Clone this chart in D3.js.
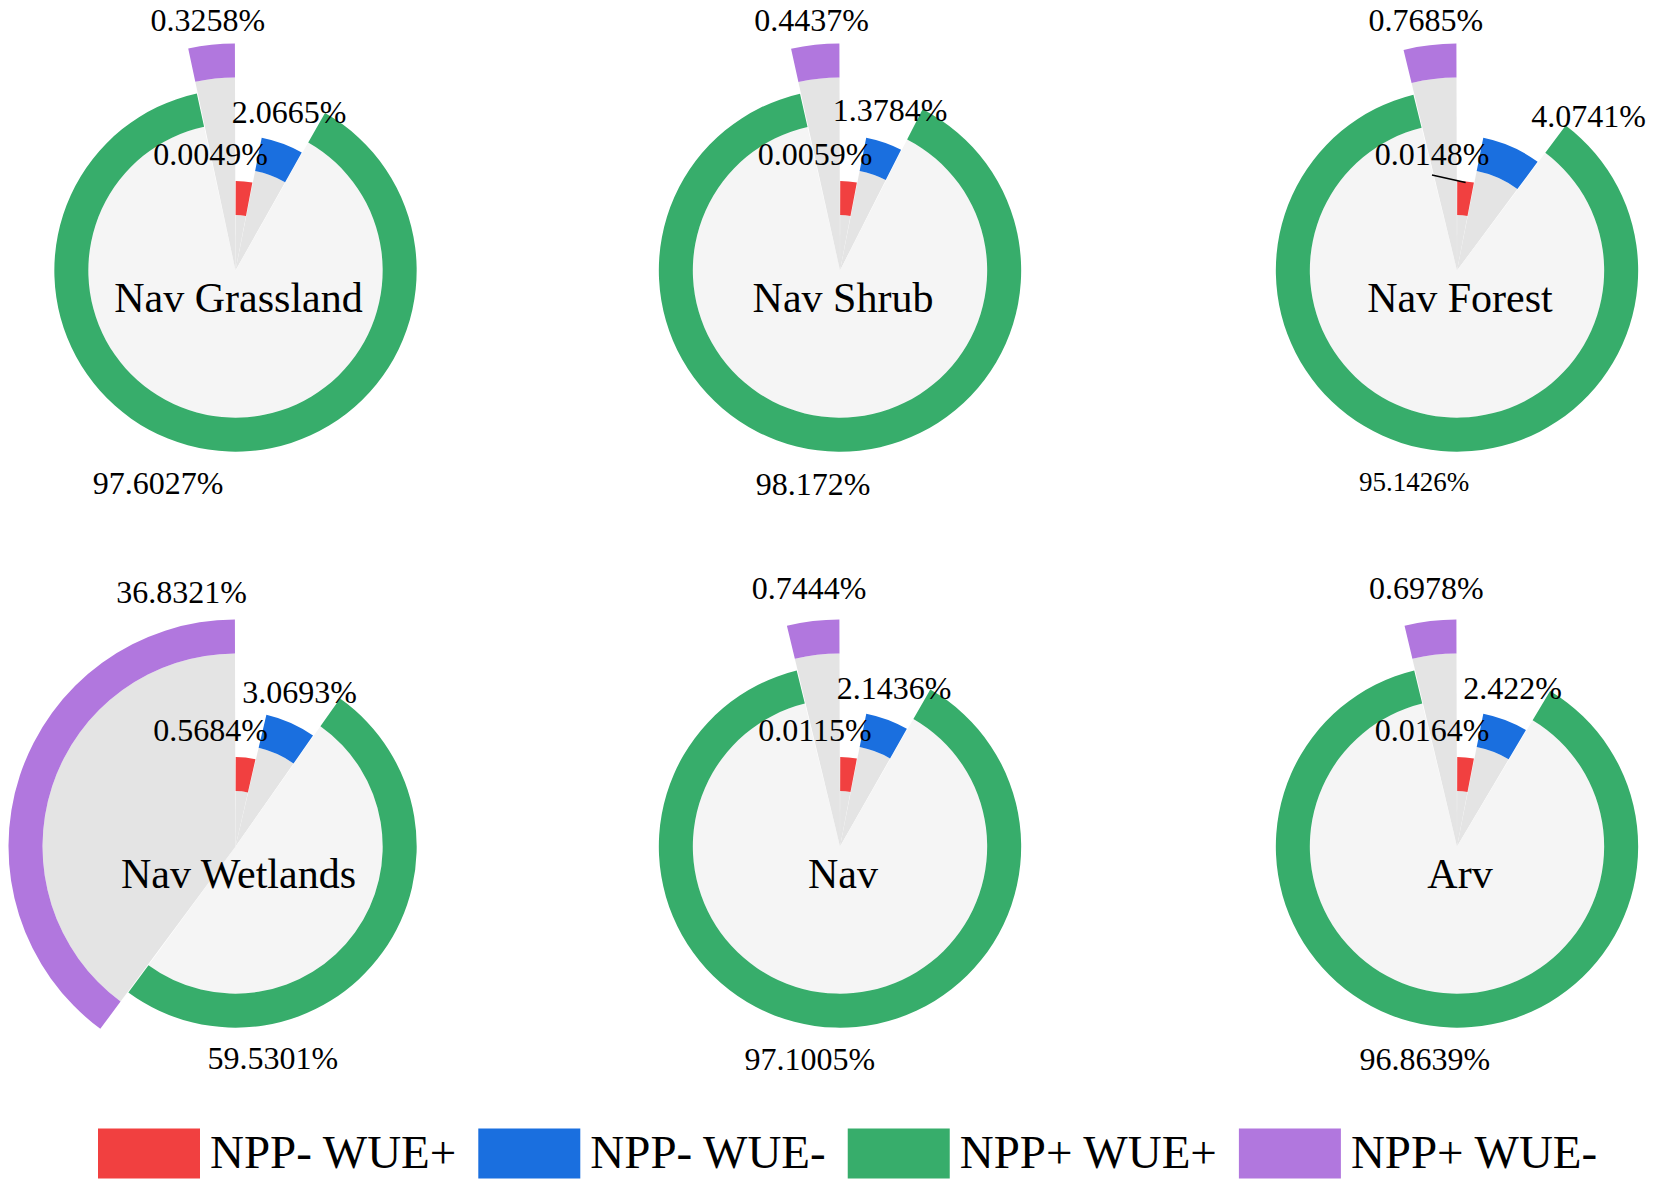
<!DOCTYPE html>
<html>
<head>
<meta charset="utf-8">
<script src="https://cdn.jsdelivr.net/npm/d3@7"></script>
<style>
  html, body { margin: 0; padding: 0; background: #fff; }
  svg { display: block; }
  text { font-family: "Times New Roman", "Liberation Serif", serif; fill: #000; }
</style>
</head>
<body>
<svg id="chart" width="1654" height="1185"></svg>
<script>
// series, clockwise from 12 o'clock
const categories = ['NPP- WUE+', 'NPP- WUE-', 'NPP+ WUE+', 'NPP+ WUE-']
const panels = ['Nav Grassland', 'Nav Shrub', 'Nav Forest', 'Nav Wetlands', 'Nav', 'Arv']

// share of area (%) per panel, same order as panels
const nppNegWuePos = [0.0049, 0.0059, 0.0148, 0.5684, 0.0115, 0.0164]
const nppNegWueNeg = [2.0665, 1.3784, 4.0741, 3.0693, 2.1436, 2.422]
const nppPosWuePos = [97.6027, 98.172, 95.1426, 59.5301, 97.1005, 96.8639]
const nppPosWueNeg = [0.3258, 0.4437, 0.7685, 36.8321, 0.7444, 0.6978]

const seriesValues = [nppNegWuePos, nppNegWueNeg, nppPosWuePos, nppPosWueNeg]
const colors = ['#f14040', '#1a6fdf', '#37ad6b', '#b177de']

const svg = d3.select('#chart')
const deg = Math.PI / 180

// grid of panels
const colX = [235.5, 840, 1457]
const rowY = [270.5, 846.5]

// every slice gets a minimum sweep, the dominant one takes what is left
const minSweep = 11 * deg
const angle = d3.scaleLinear().domain([0, 100]).range([0, 2 * Math.PI])
const radius = d3.scaleLinear().domain([0, 3]).range([89.5, 227])
const band = 34
const pad = 0.15 * deg

// hand placed labels in the original
const labelTweaks = {
  'Nav Grassland': { 2: { dx: -45 } },
  'Nav Forest': { 0: { leader: true }, 1: { dx: 68 }, 2: { size: 27 } }
}

function polar(a, r) {
  return [Math.sin(a) * r, -Math.cos(a) * r]
}

function layout(vals) {
  const big = d3.maxIndex(vals)
  const sweeps = vals.map((v, i) => i === big ? 0 : minSweep + angle(v))
  sweeps[big] = 2 * Math.PI - d3.sum(sweeps)
  let a = 0
  return vals.map((v, i) => {
    const s = { i, v, big: i === big, start: a, end: a + sweeps[i] }
    a += sweeps[i]
    return s
  })
}

function labelAnchor(s) {
  const r = radius(s.i)
  const mid = (s.start + s.end) / 2
  if (s.i === 0) return { a: s.start, r: r + 27, dx: -25 }
  if (s.i === 1) return { a: mid, r: r + 34, dx: -5 }
  if (s.i === 2) return { a: Math.max(170 * deg, Math.min(200 * deg, mid)), r: r + 34, dx: 0 }
  return { a: s.end - Math.min((s.end - s.start) / 2, 12 * deg), r: r + 33, dx: 0 }
}

panels.forEach((name, p) => {
  const cx = colX[p % 3]
  const cy = rowY[Math.floor(p / 3)]
  const g = svg.append('g').attr('transform', `translate(${cx},${cy})`)
  const slices = layout(seriesValues.map(s => s[p]))

  g.selectAll('path.base')
    .data(slices)
    .join('path')
    .attr('class', 'base')
    .attr('fill', d => d.big ? '#f5f5f5' : '#e4e4e4')
    .attr('d', d => d3.arc()
      .innerRadius(0)
      .outerRadius(radius(d.i) - band)
      .startAngle(d.start + pad)
      .endAngle(d.end - pad)())

  g.selectAll('path.band')
    .data(slices)
    .join('path')
    .attr('class', 'band')
    .attr('fill', d => colors[d.i])
    .attr('d', d => d3.arc()
      .innerRadius(radius(d.i) - band)
      .outerRadius(radius(d.i))
      .startAngle(d.start + pad)
      .endAngle(d.end - pad)())

  const tweaks = labelTweaks[name] || {}

  slices.forEach(s => {
    const t = tweaks[s.i] || {}
    const an = labelAnchor(s)
    let [x, y] = polar(an.a, an.r)
    x += an.dx + (t.dx || 0)
    y = Math.max(y, 20 - cy)
    const size = t.size || 32

    g.append('text')
      .attr('x', x)
      .attr('y', y)
      .attr('dy', '0.34em')
      .attr('text-anchor', 'middle')
      .attr('font-size', size)
      .text(`${s.v}%`)

    if (t.leader) {
      const [px, py] = polar((s.start + s.end) / 2, radius(s.i))
      g.append('line')
        .attr('x1', x).attr('y1', y + 21)
        .attr('x2', px).attr('y2', py + 1)
        .attr('stroke', '#000')
        .attr('stroke-width', 1.5)
    }
  })

  g.append('text')
    .attr('x', 3)
    .attr('y', 41)
    .attr('text-anchor', 'middle')
    .attr('font-size', 42)
    .text(name)
})

// legend, laid out left to right from the first swatch
const legend = svg.append('g')
const items = legend.selectAll('g')
  .data(categories)
  .join('g')

items.append('rect')
  .attr('width', 102)
  .attr('height', 50)
  .attr('y', 1128.5)
  .attr('fill', (d, i) => colors[i])

items.append('text')
  .attr('x', 112)
  .attr('y', 1168)
  .attr('font-size', 47)
  .text(d => d)

let lx = 98
items.each(function() {
  const item = d3.select(this)
  item.attr('transform', `translate(${lx},0)`)
  lx += 112 + item.select('text').node().getComputedTextLength() + 22
})
</script>
</body>
</html>
